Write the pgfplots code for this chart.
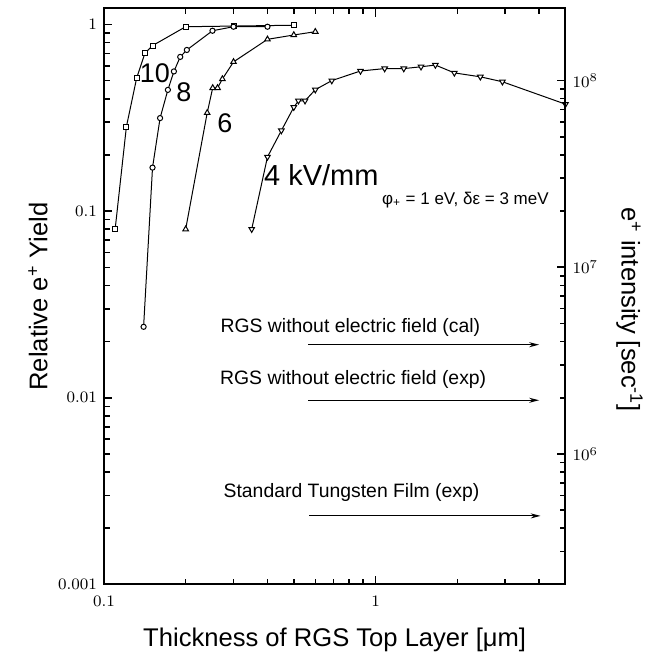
\documentclass[border=0pt]{standalone}
\usepackage{pgfplots}
\pgfplotsset{compat=1.18}
\usepackage{fontspec}
\setmainfont{Liberation Sans}
\usetikzlibrary{arrows.meta}
\begin{document}
\begin{tikzpicture}
\path (-52pt,-36.5pt) rectangle (270.5pt,292.5pt);
\begin{axis}[
  at={(0,0)}, anchor=south west,
  scale only axis, width=231pt, height=288.35pt,
  xmode=log, ymode=log, xmin=0.1, xmax=5,
  ymin=0.001, ymax=1.22,
  axis line style={line width=1pt},
  tick style={black, line width=0.8pt},
  log ticks with fixed point,
  tick label style={font=\fontsize{8.5}{10}\selectfont},
  xticklabel style={yshift=-2.5pt},
  ytick pos=left,
  xlabel={Thickness of RGS Top Layer [μm]},
  ylabel={Relative e\textsuperscript{+} Yield},
  every axis x label/.style={at={(axis description cs:0.5,0)}, anchor=center, yshift=-27.5pt, font=\fontsize{12.8}{15}\selectfont},
  every axis y label/.style={at={(axis description cs:0,0.5)}, anchor=center, xshift=-33pt, rotate=90, font=\fontsize{12.8}{15}\selectfont},
  clip=false,
]
% 10 kV/mm
\addplot[black, line width=0.5pt, mark=square*, mark size=1.25pt, mark options={fill=white, solid}]
  coordinates {(0.110,0.080) (0.121,0.283) (0.132,0.516) (0.1415,0.70) (0.151,0.77) (0.20,0.972) (0.30,0.98) (0.50,0.99)};
% 8 kV/mm
\addplot[black, line width=0.5pt, mark=*, mark size=1.3pt, mark options={fill=white, solid}]
  coordinates {(0.140,0.024) (0.151,0.171) (0.161,0.315) (0.172,0.446) (0.181,0.56) (0.191,0.67) (0.202,0.73) (0.251,0.925) (0.30,0.972) (0.40,0.972)};
% 6 kV/mm
\addplot[black, line width=0.5pt, mark=triangle*, mark size=1.6pt, mark options={fill=white, solid}]
  coordinates {(0.20,0.080) (0.24,0.336) (0.2515,0.457) (0.262,0.457) (0.273,0.51) (0.30,0.63) (0.40,0.832) (0.50,0.878) (0.60,0.914)};
% 4 kV/mm
\addplot[black, line width=0.5pt, mark=triangle*, mark size=1.6pt, mark options={fill=white, solid, rotate=180}]
  coordinates {(0.35,0.080) (0.40,0.195) (0.45,0.27) (0.50,0.36) (0.52,0.39) (0.55,0.39) (0.60,0.447) (0.69,0.50) (0.88,0.563) (1.08,0.58) (1.27,0.58) (1.47,0.593) (1.66,0.606) (1.95,0.55) (2.43,0.524) (2.93,0.493) (5.0,0.374)};
% arrows
\addplot[black, line width=0.6pt, -{Stealth[length=5pt,width=2.5pt]}] coordinates {(0.565,0.01925) (4.0,0.01925)};
\addplot[black, line width=0.6pt, -{Stealth[length=5pt,width=2.5pt]}] coordinates {(0.565,0.0097) (4.0,0.0097)};
\addplot[black, line width=0.6pt, -{Stealth[length=5pt,width=2.5pt]}] coordinates {(0.57,0.00233) (4.05,0.00233)};
% labels
\node[font=\fontsize{13.5}{16}\selectfont] at (axis cs:0.154,0.546) {10};
\node[font=\fontsize{13.5}{16}\selectfont] at (axis cs:0.197,0.435) {8};
\node[font=\fontsize{13.5}{16}\selectfont] at (axis cs:0.279,0.295) {6};
\node[font=\fontsize{14.5}{17}\selectfont, anchor=west, inner sep=0pt] at (axis cs:0.388,0.156) {4 kV/mm};
\node[font=\fontsize{8.5}{10}\selectfont] at (axis cs:2.14,0.115) {φ\textsubscript{+} = 1 eV, δε = 3 meV};
\node[font=\fontsize{9.7}{12}\selectfont, anchor=west, inner sep=0pt] at (axis cs:0.268,0.0239) {RGS without electric field (cal)};
\node[font=\fontsize{9.7}{12}\selectfont, anchor=west, inner sep=0pt] at (axis cs:0.267,0.01256) {RGS without electric field (exp)};
\node[font=\fontsize{9.7}{12}\selectfont, anchor=west, inner sep=0pt] at (axis cs:0.275,0.00311) {Standard Tungsten Film (exp)};
\end{axis}
\begin{axis}[
  at={(0,0)}, anchor=south west,
  scale only axis, width=231pt, height=288.35pt,
  xmode=log, ymode=log, xmin=0.1, xmax=5,
  axis line style={line width=1pt},
  tick style={black, line width=0.8pt},
  tick label style={font=\fontsize{8.5}{10}\selectfont},
  ymin=2e5, ymax=2.44e8,
  axis x line=none, axis y line*=right,
  ylabel={e\textsuperscript{+} intensity [sec\textsuperscript{-1}]},
  every axis y label/.style={at={(axis description cs:1,0.477)}, anchor=center, xshift=32pt, rotate=-90, font=\fontsize{12.8}{15}\selectfont},
]
\addplot[draw=none] coordinates {(1,1e6)};
\end{axis}
\end{tikzpicture}
\end{document}
